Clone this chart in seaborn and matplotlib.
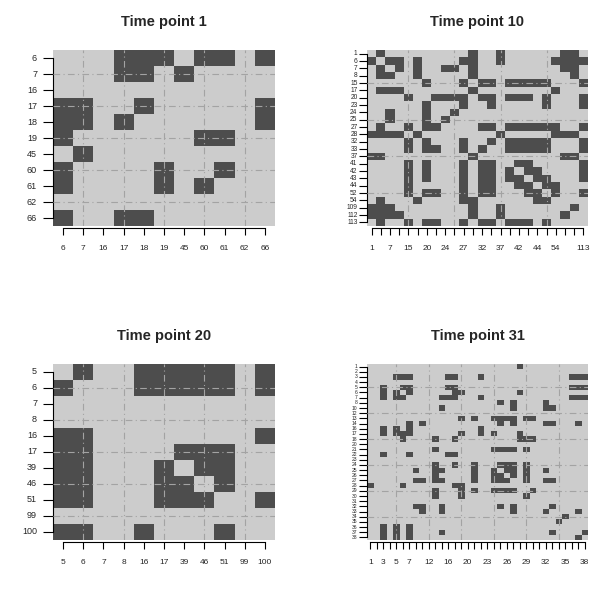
import numpy as np
import pandas as pd
import matplotlib
matplotlib.use("Agg")
import matplotlib.pyplot as plt
import seaborn as sns
from matplotlib.colors import ListedColormap

sns.set_style("white")
plt.rcParams["font.family"] = ["Liberation Sans", "DejaVu Sans"]

# Nodi presenti in ogni istante
nodes_t1 = [6, 7, 16, 17, 18, 19, 45, 60, 61, 62, 66]
nodes_t10 = [1, 6, 7, 8, 15, 17, 20, 23, 24, 25, 27, 28, 32, 33, 37, 41,
             42, 43, 44, 52, 54, 109, 112, 113]
nodes_t20 = [5, 6, 7, 8, 16, 17, 39, 46, 51, 99, 100]
nodes_t31 = [1, 2, 3, 4, 5, 6, 7, 8, 10, 12, 13, 14, 16, 17, 18, 20, 21, 22,
             23, 24, 25, 26, 27, 28, 29, 30, 31, 32, 33, 34, 35, 36, 37, 38]

# Etichette x effettivamente stampate (le altre si sovrapponevano)
xshown_t10 = [1, 7, 15, 20, 24, 27, 32, 37, 42, 44, 54, 113]
xshown_t31 = [1, 3, 5, 7, 12, 16, 20, 23, 26, 29, 32, 35, 38]

# Archi (grafo non orientato)
edges_t1 = [(6, 17), (6, 18), (6, 19), (6, 60), (6, 61), (6, 66), (7, 17),
            (7, 18), (7, 45), (17, 18), (17, 66), (18, 66), (19, 60),
            (19, 61), (60, 61)]

edges_t10 = [(1, 6), (1, 28), (1, 37), (1, 109), (1, 112),
             (6, 7), (6, 8), (6, 17), (6, 27), (6, 28), (6, 37), (6, 54),
             (6, 109), (6, 112), (6, 113),
             (7, 8), (7, 17), (7, 24), (7, 25), (7, 28), (7, 109), (7, 112),
             (8, 17), (8, 28), (8, 112),
             (15, 20), (15, 27), (15, 32), (15, 33), (15, 41), (15, 42),
             (15, 43), (15, 44), (15, 52), (15, 113),
             (17, 28), (17, 54),
             (20, 23), (20, 24), (20, 25), (20, 27), (20, 32), (20, 33),
             (20, 41), (20, 42), (20, 43), (20, 52), (20, 113),
             (23, 27), (23, 33), (23, 52), (23, 113),
             (24, 25),
             (27, 32), (27, 33), (27, 41), (27, 42), (27, 43), (27, 44),
             (27, 52), (27, 54), (27, 113),
             (28, 37), (28, 54), (28, 109), (28, 112),
             (32, 33), (32, 41), (32, 42), (32, 43), (32, 44), (32, 52),
             (32, 113),
             (33, 41), (33, 42), (33, 43), (33, 44), (33, 52), (33, 113),
             (37, 109), (37, 112),
             (41, 42), (41, 43), (41, 113),
             (42, 43), (42, 44), (42, 113),
             (43, 44), (43, 52), (43, 113),
             (44, 52), (44, 54),
             (52, 54), (52, 113),
             (109, 112)]

edges_t20 = [(5, 6), (5, 16), (5, 17), (5, 39), (5, 46), (5, 51), (5, 100),
             (6, 16), (6, 17), (6, 39), (6, 46), (6, 51), (6, 100),
             (16, 100), (17, 39), (17, 46), (17, 51), (39, 46), (39, 51),
             (46, 51), (51, 100)]

edges_t31 = [(1, 28),
             (3, 5), (3, 6), (3, 7), (3, 16), (3, 17), (3, 22), (3, 36),
             (3, 37), (3, 38),
             (5, 6), (5, 7), (5, 16), (5, 17), (5, 36), (5, 37), (5, 38),
             (6, 7), (6, 17), (6, 18), (6, 28),
             (7, 14), (7, 16), (7, 17), (7, 22), (7, 36), (7, 37), (7, 38),
             (8, 25), (8, 27), (8, 32),
             (10, 14), (10, 27), (10, 32), (10, 33),
             (13, 18), (13, 21), (13, 24), (13, 25), (13, 26), (13, 27),
             (13, 29), (13, 30),
             (14, 25), (14, 27), (14, 32), (14, 33), (14, 37),
             (16, 22),
             (17, 18), (17, 22), (17, 24), (17, 28),
             (18, 28), (18, 29), (18, 30),
             (21, 24), (21, 25), (21, 26), (21, 27), (21, 29),
             (24, 25), (24, 26), (24, 27), (24, 29),
             (25, 26), (25, 27), (25, 29), (25, 32),
             (26, 27), (26, 29),
             (27, 29), (27, 32), (27, 33),
             (29, 30), (32, 33), (33, 37), (34, 35), (37, 38)]

LIGHT = "#cccccc"
DARK = "#4d4d4d"
cmap = ListedColormap([LIGHT, DARK])


def adjacency(nodes, edges):
    """Matrice di adiacenza simmetrica come DataFrame."""
    mat = pd.DataFrame(0, index=nodes, columns=nodes)
    for a, b in edges:
        mat.loc[a, b] = 1
        mat.loc[b, a] = 1
    return mat


def draw_panel(ax, mat, title, xshown=None, ysize=6.5, ylen=7.2, ypad=4.3):
    n = len(mat)
    sns.heatmap(mat, ax=ax, cmap=cmap, vmin=0, vmax=1, cbar=False,
                xticklabels=True, yticklabels=True)

    # griglia tratteggiata stile grid() di R
    step = 2 if n <= 12 else 5
    for v in range(step, n, step):
        for f in (ax.axvline, ax.axhline):
            f(v - 0.5, color="#a3a3a3", lw=0.8,
              linestyle=(0, (6, 3, 1, 3)), zorder=3)

    # spine prima dei tick: set_position rigenera i tick
    for side in ("left", "bottom"):
        ax.spines[side].set_visible(True)
        ax.spines[side].set_color("black")
        ax.spines[side].set_linewidth(0.8)
        ax.spines[side].set_bounds(0.5, n - 0.5)
    ax.spines["bottom"].set_position(("outward", 1.5))

    labels = [str(v) for v in mat.columns]
    if xshown is not None:
        labels = [s if int(s) in xshown else "" for s in labels]
    ax.set_xticks(np.arange(n) + 0.5)
    ax.set_xticklabels(labels, rotation=0)
    ax.set_yticks(np.arange(n) + 0.5)
    ax.set_yticklabels([str(v) for v in mat.index], rotation=0)
    ax.tick_params(axis="x", bottom=True, length=5, width=0.8, pad=7.5,
                   color="black", labelsize=6)
    ax.tick_params(axis="y", left=True, length=ylen, width=0.8, pad=ypad,
                   color="black", labelsize=ysize)

    ax.set_xlabel("")
    ax.set_ylabel("")
    ax.set_title(title, fontsize=10.5, fontweight="bold", pad=17)


fig = plt.figure(figsize=(6.11, 5.89), dpi=100)
W, H = 611, 589


def add_axes(x0, y0, x1, y1):
    return fig.add_axes([x0 / W, 1 - y1 / H, (x1 - x0) / W, (y1 - y0) / H])


ax1 = add_axes(53, 50, 275, 226)
ax2 = add_axes(367, 50, 588, 226)
ax3 = add_axes(53, 364, 275, 540)
ax4 = add_axes(367, 364, 588, 540)

draw_panel(ax1, adjacency(nodes_t1, edges_t1), "Time point 1")
draw_panel(ax2, adjacency(nodes_t10, edges_t10), "Time point 10",
           xshown=xshown_t10, ysize=4.8, ylen=5.8, ypad=1)
draw_panel(ax3, adjacency(nodes_t20, edges_t20), "Time point 20")
draw_panel(ax4, adjacency(nodes_t31, edges_t31), "Time point 31",
           xshown=xshown_t31, ysize=3.6, ylen=5.8, ypad=1)

fig.savefig("out.png", dpi=100, facecolor="white")
